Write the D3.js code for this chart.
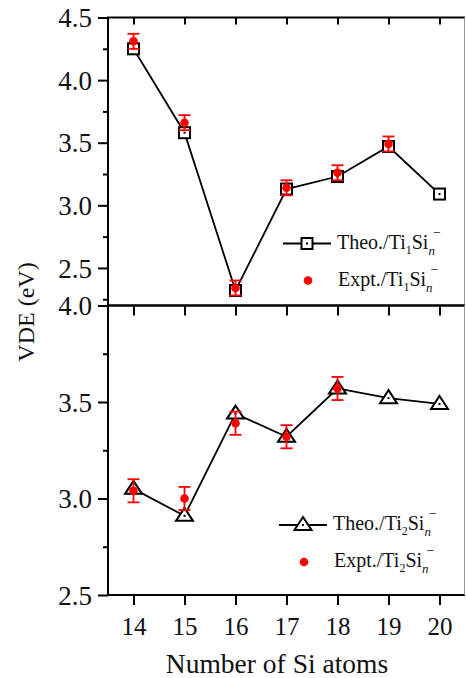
<!DOCTYPE html>
<html>
<head>
<meta charset="utf-8">
<script src="https://cdn.jsdelivr.net/npm/d3@7"></script>
<style>
    body { margin: 0; background: #fff; }
    svg { display: block; }
    svg text { font-family: "Liberation Serif", "Times New Roman", serif; }
</style>
</head>
<body>
<svg id="chart" width="466" height="678"></svg>
<script>
const FONT = "Liberation Serif, Times New Roman, serif";

// Si atom counts
const SIZES = [14, 15, 16, 17, 18, 19, 20];

// Ti1Si_n- : theory and experiment (eV)
const THEO_1 = [4.25, 3.58, 2.32, 3.13, 3.23, 3.47, 3.09];
const EXPT_1 = [4.31, 3.66, 2.34, 3.14, 3.26, 3.49];
const ERR_1 = [0.06, 0.06, 0.06, 0.06, 0.06, 0.06];

// Ti2Si_n-
const THEO_2 = [3.05, 2.91, 3.44, 3.32, 3.57, 3.52, 3.49];
const EXPT_2 = [3.04, 3.00, 3.39, 3.32, 3.57];
const ERR_2 = [0.06, 0.06, 0.06, 0.06, 0.06];

const TOP_TICKS = [2.5, 3.0, 3.5, 4.0, 4.5];
const TOP_MINOR = [2.25, 2.75, 3.25, 3.75, 4.25];
const BOT_TICKS = [2.5, 3.0, 3.5, 4.0];
const BOT_MINOR = [2.75, 3.25, 3.75];

const SVG = d3.select("#chart");
const LEFT = 108, RIGHT = 465;

const x = d3.scaleLinear().domain([13.5, 20.5]).range([LEFT, RIGHT]);
const yTop = d3.scaleLinear().domain([2.2, 4.5]).range([305.5, 17.5]);
const yBot = d3.scaleLinear().domain([2.5, 4.0]).range([595, 305.5]);

function drawPanel(y, ticks, minor, theo, expt, err, marker, topTick) {
    const g = SVG.append("g");
    const [y0, y1] = y.range();

    // y axis, ticks outward
    const axis = g.append("g").attr("transform", `translate(${LEFT},0)`)
        .call(d3.axisLeft(y).tickValues(ticks).tickSize(10).tickSizeOuter(0).tickFormat(d3.format(".1f")))
        .attr("font-family", FONT);
    axis.select(".domain").remove();
    axis.selectAll("line").attr("stroke-width", 2);
    axis.selectAll("text").attr("font-size", 27).attr("fill", "#111").attr("x", -16).attr("dy", "0.34em");
    g.append("g").attr("transform", `translate(${LEFT},0)`)
        .call(d3.axisLeft(y).tickValues(minor).tickSize(5).tickFormat(""))
        .call(a => a.select(".domain").remove())
        .selectAll("line").attr("stroke-width", 2);

    // top ticks, inward
    g.append("g").attr("transform", `translate(0,${y1})`)
        .call(d3.axisBottom(x).tickValues(SIZES).tickSize(topTick).tickFormat(""))
        .call(a => a.select(".domain").remove())
        .selectAll("line").attr("stroke-width", 2);

    // frame
    g.append("line").attr("x1", LEFT).attr("x2", LEFT).attr("y1", y1).attr("y2", y0)
        .attr("stroke", "#000").attr("stroke-width", 2);
    g.append("line").attr("x1", LEFT - 1).attr("x2", RIGHT).attr("y1", y1).attr("y2", y1)
        .attr("stroke", "#000").attr("stroke-width", 2);
    g.append("line").attr("x1", LEFT - 1).attr("x2", RIGHT).attr("y1", y0).attr("y2", y0)
        .attr("stroke", "#000").attr("stroke-width", 2);
    g.append("line").attr("x1", RIGHT - 0.5).attr("x2", RIGHT - 0.5).attr("y1", y1).attr("y2", y0)
        .attr("stroke", "#999").attr("stroke-width", 1);

    // theory line + markers
    const pts = SIZES.map((n, i) => [x(n), y(theo[i])]);
    g.append("path").attr("d", d3.line()(pts))
        .attr("fill", "none").attr("stroke", "#000").attr("stroke-width", 1.8);
    pts.forEach(p => drawMarker(g, marker, p[0], p[1]));

    // experiment with error bars
    expt.forEach((v, i) => {
        const cx = x(SIZES[i]);
        const hi = y(v + err[i]), lo = y(v - err[i]);
        g.append("line").attr("x1", cx).attr("x2", cx).attr("y1", hi).attr("y2", lo)
            .attr("stroke", "#f00").attr("stroke-width", 1.8);
        [hi, lo].forEach(yy => g.append("line").attr("x1", cx - 6).attr("x2", cx + 6)
            .attr("y1", yy).attr("y2", yy).attr("stroke", "#f00").attr("stroke-width", 1.8));
        g.append("circle").attr("cx", cx).attr("cy", y(v)).attr("r", 4.3).attr("fill", "#f00");
    });
}

function drawMarker(g, type, cx, cy) {
    if (type === "square") {
        g.append("rect").attr("x", cx - 5.5).attr("y", cy - 5.5).attr("width", 11).attr("height", 11)
            .attr("fill", "#fff").attr("stroke", "#000").attr("stroke-width", 2);
    } else {
        g.append("path").attr("d", `M${cx},${cy - 8}L${cx + 8.5},${cy + 5}L${cx - 8.5},${cy + 5}Z`)
            .attr("fill", "#fff").attr("stroke", "#000").attr("stroke-width", 2).attr("stroke-linejoin", "miter");
    }
    g.append("rect").attr("x", cx - 1).attr("y", cy - 1).attr("width", 2).attr("height", 2).attr("fill", "#000");
}

function legendLabel(lx, ly, head, idx) {
    const t = SVG.append("text").attr("x", lx).attr("y", ly).attr("font-size", 20)
        .attr("font-family", FONT).attr("fill", "#111");
    t.append("tspan").text(head + "/Ti");
    t.append("tspan").attr("font-size", 12).attr("dy", 5).text(idx);
    t.append("tspan").attr("dy", -5).text("Si");
    t.append("tspan").attr("font-size", 13).attr("font-style", "italic").attr("dy", 6).text("n");
    t.append("tspan").attr("font-size", 14).attr("dy", -18).attr("dx", -2).text("\u2212");
}

function drawLegend(lx, ly, marker, idx) {
    SVG.append("line").attr("x1", lx - 24).attr("x2", lx + 24).attr("y1", ly).attr("y2", ly)
        .attr("stroke", "#000").attr("stroke-width", 1.8);
    drawMarker(SVG, marker, lx, ly);
    legendLabel(lx + 30, ly + 5, "Theo.", idx);
    SVG.append("circle").attr("cx", lx + 1).attr("cy", ly + 37).attr("r", 4.3).attr("fill", "#f00");
    legendLabel(lx + 31, ly + 42, "Expt.", idx);
}

drawPanel(yTop, TOP_TICKS, TOP_MINOR, THEO_1, EXPT_1, ERR_1, "square", 7);
drawPanel(yBot, BOT_TICKS, BOT_MINOR, THEO_2, EXPT_2, ERR_2, "triangle", 10);

// bottom x axis
const xAxis = SVG.append("g").attr("transform", "translate(0,595)")
    .call(d3.axisBottom(x).tickValues(SIZES).tickSize(10).tickSizeOuter(0).tickFormat(d3.format("d")))
    .attr("font-family", FONT);
xAxis.select(".domain").remove();
xAxis.selectAll("line").attr("stroke-width", 2);
xAxis.selectAll("text").attr("font-size", 25).attr("fill", "#111").attr("y", 0).attr("dy", 40);

drawLegend(307, 243.5, "square", "1");
drawLegend(303, 525, "triangle", "2");

SVG.append("text").attr("x", 277).attr("y", 673).attr("text-anchor", "middle")
    .attr("font-family", FONT).attr("font-size", 27.5).attr("fill", "#111").text("Number of Si atoms");
SVG.append("text").attr("transform", "translate(34,312) rotate(-90)").attr("text-anchor", "middle")
    .attr("font-family", FONT).attr("font-size", 24).attr("fill", "#111").text("VDE (eV)");
</script>
</body>
</html>
